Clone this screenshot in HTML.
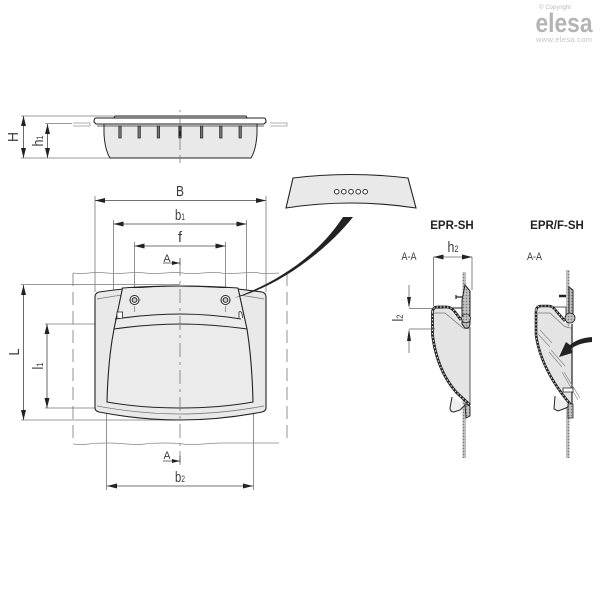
<!DOCTYPE html>
<html><head><meta charset="utf-8"><style>
html,body{margin:0;padding:0;background:#fff}
svg{display:block}
text{font-family:"Liberation Sans",sans-serif;fill:#3a3a3a}
</style></head><body>
<svg width="600" height="600" viewBox="0 0 600 600" xmlns="http://www.w3.org/2000/svg">
<defs>
<marker id="a" viewBox="0 0 12 6" refX="12" refY="3" markerWidth="12" markerHeight="5" markerUnits="userSpaceOnUse" orient="auto-start-reverse"><path d="M12 3L0 0V6Z" fill="#222"/></marker>
<pattern id="h" width="3" height="3" patternUnits="userSpaceOnUse"><rect width="3" height="3" fill="#c4c4c4"/><circle cx="1.500" cy="1.500" r=".8" fill="#777"/></pattern>
</defs>

<!-- Logo -->
<g text-anchor="middle">
<text x="555" y="9" font-size="6" style="fill:#bbb">© Copyright</text>
<text x="564" y="32" font-size="27" font-weight="bold" textLength="57" lengthAdjust="spacingAndGlyphs" style="fill:#b4b4b4">elesa</text>
<text x="564" y="42" font-size="7.500" textLength="56" style="fill:#c4c4c4">www.elesa.com</text>
</g>

<!-- Top view -->
<g stroke="#777" stroke-width=".8" fill="none">
<path d="M21 116H114M45 123.500H72M21 158H110"/>
<path d="M73 123H90V126H73M270 123H287V126H270" stroke="#999"/>
</g>
<path d="M104 124H257V134Q256 150 251 158H110Q105 150 104 134Z" fill="#e9e9e9" stroke="#222" stroke-width="1"/>
<path d="M114 118L115 116H246L247 118" fill="#ddd" stroke="#222" stroke-width="1"/>
<path d="M96 118H264Q266 118 266 122L264 124H96L94 122Q94 118 96 118Z" fill="#fff" stroke="#222" stroke-width="1.100"/>
<path d="M97 126H264" stroke="#333" stroke-width=".8"/>
<g fill="#777" stroke="#222" stroke-width=".7">
<rect x="118.800" y="126" width="2.400" height="12"/><rect x="138" y="126" width="2.400" height="12"/><rect x="157.200" y="126" width="2.400" height="12"/><rect x="178.800" y="126" width="2.400" height="12" fill="#222"/><rect x="200.400" y="126" width="2.400" height="12"/><rect x="219.600" y="126" width="2.400" height="12"/><rect x="239" y="126" width="2.400" height="12"/>
</g>
<path d="M180 110V163" stroke="#777" stroke-width=".8" stroke-dasharray="2 5 14 5 14 5 18 3"/>

<!-- Extension lines front -->
<g stroke="#777" stroke-width=".8" fill="none">
<path d="M95 196V292M113.500 220V290M134.500 242V292M225.500 242V292M246.500 220V290M266 196V292"/>
<path d="M106.500 403V490M253.500 403V490"/>
<path d="M21 284.500H180M21 420H180M45 324H115M45 408H107"/>
</g>

<!-- Panel -->
<path d="M73 273q8 1 16 0t18 0t20 0t18 0t20 0t18 0t20 0t18 0t20 0t18 0t20 0M73 444q8 1 16 0t18 -1t20 1t18 0t20 -1t18 1t20 0t18 -1t20 0t18 0t20 0" fill="none" stroke="#888" stroke-width=".8"/>
<path d="M73 273V444M287 273V444" fill="none" stroke="#777" stroke-width=".8" stroke-dasharray="13 6"/>

<!-- Handle -->
<path d="M99 292Q140 286 180 286Q220 286 262 292Q266 293 266 297V408Q266 411 262 412Q220 420 180 420Q140 420 99 412Q95 411 95 408V297Q95 293 99 292Z" fill="#e9e9e9" stroke="#222" stroke-width="1.100"/>
<path d="M97 299Q140 291 180 291Q220 291 264 299M97 406Q140 414 180 414Q220 414 264 406" fill="none" stroke="#777" stroke-width=".8"/>
<path d="M122.500 288L114 329Q108 360 107 402Q140 408 180 408Q220 408 253 402Q252 360 247 329L238 288" fill="#ebebeb" stroke="#222" stroke-width="1.100"/>
<path d="M115 319Q150 314 180 314Q210 314 241 319M114 329Q150 324 180 324Q210 324 247 329" fill="none" stroke="#222" stroke-width="1.100"/>
<path d="M122 288Q150 286 180 286Q210 286 238 288" fill="none" stroke="#222" stroke-width="1"/>
<path d="M117 318V312H122.500V318M239 318V312Q242 310 242.500 318" fill="#fff" stroke="#222" stroke-width=".8"/>
<path d="M180 262V470" stroke="#777" stroke-width=".8" stroke-dasharray="14 5 3 5" fill="none"/>
<!-- screws -->
<g fill="none" stroke="#222">
<circle cx="134.500" cy="300" r="4.500" stroke-width="1" fill="#fff"/><circle cx="134.500" cy="300" r="2.300" stroke-width="1.100"/>
<circle cx="225.500" cy="300" r="4.500" stroke-width="1" fill="#fff"/><circle cx="225.500" cy="300" r="2.300" stroke-width="1.100"/>
</g>
<path d="M129 300H141M134.500 306V312M220 300H231M225.500 306V312" stroke="#777" stroke-width=".7"/>

<!-- leader wedge and callout -->
<path d="M234 298C270 285 315 260 343 217H353C322 256 272 289 234 298Z" fill="#222"/>
<path d="M293 178Q350 171 408 178L416 208Q350 198 286 208Z" fill="#e9e9e9" stroke="#222" stroke-width="1.100"/>
<g fill="#fff" stroke="#222" stroke-width=".9">
<circle cx="336.700" cy="191.700" r="2.300"/><circle cx="343.800" cy="191.700" r="2.300"/><circle cx="351" cy="191.700" r="2.300"/><circle cx="358.200" cy="191.700" r="2.300"/><circle cx="365.200" cy="191.700" r="2.300"/>
</g>

<!-- Dimensions -->
<g stroke="#444" stroke-width=".8" fill="none">
<path d="M23.500 116V158" marker-start="url(#a)" marker-end="url(#a)"/>
<path d="M47.500 124V158" marker-start="url(#a)" marker-end="url(#a)"/>
<path d="M95 200.500H266" marker-start="url(#a)" marker-end="url(#a)"/>
<path d="M113.500 224H246.500" marker-start="url(#a)" marker-end="url(#a)"/>
<path d="M134.500 246H225.500" marker-start="url(#a)" marker-end="url(#a)"/>
<path d="M23.500 285V420" marker-start="url(#a)" marker-end="url(#a)"/>
<path d="M47 324V408" marker-start="url(#a)" marker-end="url(#a)"/>
<path d="M107 486H253" marker-start="url(#a)" marker-end="url(#a)"/>
<path d="M163 263H180M163 461H180M180 258V265M180 456V463"/>
</g>
<path d="M172 261L180 263L172 265ZM172 459L180 461L172 463Z" fill="#222"/>

<!-- Labels -->
<g font-size="15" text-anchor="middle">
<text x="180" y="196" textLength="8" lengthAdjust="spacingAndGlyphs">B</text>
<text x="180" y="220" textLength="10" lengthAdjust="spacingAndGlyphs">b<tspan font-size="9">1</tspan></text>
<text x="180" y="242" textLength="4" lengthAdjust="spacingAndGlyphs">f</text>
<text x="180" y="482" textLength="10" lengthAdjust="spacingAndGlyphs">b<tspan font-size="9">2</tspan></text>
<text x="167" y="262" font-size="11" textLength="7" lengthAdjust="spacingAndGlyphs">A</text>
<text x="167" y="459" font-size="11" textLength="7" lengthAdjust="spacingAndGlyphs">A</text>
<text transform="translate(18 137) rotate(-90)" textLength="10" lengthAdjust="spacingAndGlyphs">H</text>
<text transform="translate(43 141) rotate(-90)" textLength="11" lengthAdjust="spacingAndGlyphs">h<tspan font-size="9">1</tspan></text>
<text transform="translate(19 352) rotate(-90)" textLength="7" lengthAdjust="spacingAndGlyphs">L</text>
<text transform="translate(43 366) rotate(-90)" textLength="7" lengthAdjust="spacingAndGlyphs">l<tspan font-size="9">1</tspan></text>
<text transform="translate(403 318) rotate(-90)" textLength="7" lengthAdjust="spacingAndGlyphs">l<tspan font-size="9">2</tspan></text>
<text x="453" y="252" textLength="11" lengthAdjust="spacingAndGlyphs">h<tspan font-size="9">2</tspan></text>
</g>
<text x="452" y="229" font-size="11.500" font-weight="bold" text-anchor="middle" style="fill:#222">EPR-SH</text>
<text x="557" y="229" font-size="11.500" font-weight="bold" text-anchor="middle" style="fill:#222">EPR/F-SH</text>
<text x="409" y="260" font-size="11" text-anchor="middle" textLength="15" lengthAdjust="spacingAndGlyphs">A-A</text>
<text x="534.500" y="260" font-size="11" text-anchor="middle" textLength="15" lengthAdjust="spacingAndGlyphs">A-A</text>

<!-- Section EPR-SH -->
<rect x="462.500" y="272" width="3.500" height="186" fill="url(#h)"/>
<path d="M431 312Q432 306 437 306H447L459 321L470 329V404L458 393Q440 370 434 345L431 330Z" fill="#e4e4e4"/>
<path d="M433 313H445L463 328L470 329" fill="none" stroke="#777" stroke-width=".8"/>
<path d="M452 308H463" stroke="#222" stroke-width="1"/>
<path d="M432.500 312Q433 307 437 307H447Q451 307 455 312L461 320" fill="none" stroke="#222" stroke-width="2.800"/>
<path d="M432.500 312Q433 307 437 307H447Q451 307 455 312L461 320" fill="none" stroke="#ddd" stroke-width="1.200" stroke-dasharray="1.500 2"/>
<path d="M432.500 312V335Q437 370 456 392L470 405" fill="none" stroke="#222" stroke-width="2.800"/>
<path d="M432.500 312V335Q437 370 456 392L470 405" fill="none" stroke="#ddd" stroke-width="1.200" stroke-dasharray="1.500 2"/>
<path d="M465 285L470 291V323Q470 329 465 328L462 324V300Z" fill="url(#h)" stroke="#222" stroke-width="1"/>
<circle cx="466" cy="318.500" r="4.500" fill="url(#h)" stroke="#222" stroke-width=".8"/>
<path d="M470 327V404" stroke="#333" stroke-width=".8"/>
<path d="M456 297H463M456 295V299" stroke="#222" stroke-width="1.200"/>
<path d="M452 397L450 408Q450 412 454 412L460 410L465 405" fill="#eee" stroke="#222" stroke-width="1"/>
<path d="M465 404L470 406V416L466 418Z" fill="url(#h)" stroke="#222" stroke-width=".9"/>
<g stroke="#666" stroke-width=".8" fill="none">
<path d="M433.500 257V306M472 257V290M409 308.500H443M409 329H435M409 285V297M409 340V353"/>
<path d="M433.500 257H472" marker-start="url(#a)" marker-end="url(#a)"/>
</g>
<path d="M407 297H411L409 308ZM407 341H411L409 329Z" fill="#222"/>

<!-- Section EPR/F-SH -->
<rect x="566" y="270" width="3.500" height="188" fill="url(#h)"/>
<path d="M535 310Q536 305 541 305H549L563 321L572 329V405L568 405Q546 375 538 345L535 330Z" fill="#e4e4e4"/>
<path d="M551 307H566V315" fill="#fff" stroke="#222" stroke-width=".8"/>
<path d="M538 313H550L564 326Q568 328 572 328" fill="none" stroke="#777" stroke-width=".7"/>
<path d="M536 310Q537 306 541 306H549Q553 306 557 312L565 321" fill="none" stroke="#222" stroke-width="2.600"/>
<path d="M536 310Q537 306 541 306H549Q553 306 557 312L565 321" fill="none" stroke="#ddd" stroke-width="1.100" stroke-dasharray="1.500 2"/>
<path d="M536 310V335Q541 370 571 405" fill="none" stroke="#222" stroke-width="2.600"/>
<path d="M536 310V335Q541 370 571 405" fill="none" stroke="#ddd" stroke-width="1.100" stroke-dasharray="1.500 2"/>
<path d="M569 287L573 290V316L569 314Z" fill="url(#h)" stroke="#222" stroke-width="1"/>
<circle cx="570" cy="318" r="5" fill="url(#h)" stroke="#222" stroke-width=".8"/>
<path d="M572 324V418" fill="none" stroke="#222" stroke-width="1.200"/>
<path d="M559 296H566" stroke="#222" stroke-width="2.500"/>
<path d="M540 330L552 343M538 334L550 347M549 352L562 367M551 350L565 366M562 372L578 400M564 372L580 398" stroke="#888" stroke-width=".7" fill="none"/>
<path d="M555 396L554 409L558 411L566 408L570 405" fill="#eee" stroke="#222" stroke-width="1"/>
<path d="M563 388H573V392H563Z" fill="#fff" stroke="#222" stroke-width=".8"/>
<path d="M568 404H573V418H568Z" fill="url(#h)" stroke="#222" stroke-width=".8"/>
<path d="M592 337Q578 338 570 345L566 342L559 357L572 353L571 349Q578 343 592 342Z" fill="#222"/>
</svg>
</body></html>
